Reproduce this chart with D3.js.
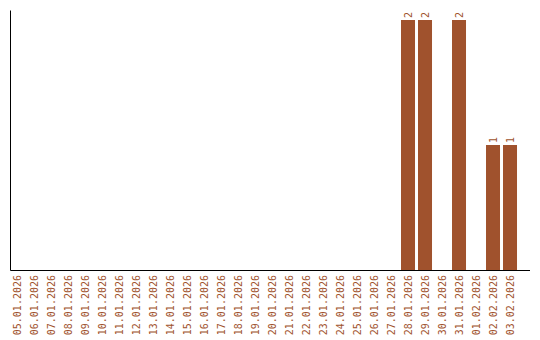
<!DOCTYPE html>
<html>
<head>
<meta charset="utf-8">
<script src="https://cdn.jsdelivr.net/npm/d3@7"></script>
<style>
  body { margin: 0; background: #fff; }
  text { font-family: "DejaVu Sans Mono", monospace; }
</style>
</head>
<body>
<script>
// data
const dates = ["05.01.2026","06.01.2026","07.01.2026","08.01.2026","09.01.2026","10.01.2026",
  "11.01.2026","12.01.2026","13.01.2026","14.01.2026","15.01.2026","16.01.2026","17.01.2026",
  "18.01.2026","19.01.2026","20.01.2026","21.01.2026","22.01.2026","23.01.2026","24.01.2026",
  "25.01.2026","26.01.2026","27.01.2026","28.01.2026","29.01.2026","30.01.2026","31.01.2026",
  "01.02.2026","02.02.2026","03.02.2026"];
const counts = [0,0,0,0,0,0,0,0,0,0,0,0,0,0,0,0,0,0,0,0,0,0,0,2,2,0,2,0,1,1];

const barColor = "#a0522d";

const svgSize = {width: 540, height: 340};
const margin = {top: 10, right: 10, bottom: 70, left: 10};
const width = svgSize.width - margin.left - margin.right,
      height = svgSize.height - margin.top - margin.bottom;

let svg = d3.select("body").append("svg")
    .attr("width", svgSize.width)
    .attr("height", svgSize.height),
  g = svg.append("g").attr("transform", `translate(${margin.left},${margin.top})`);

const rows = dates.map((d, i) => ({date: d, value: counts[i]}));

// x scale - step 17px, bar 14px
let x = d3.scaleBand()
    .domain(dates)
    .range([0, width])
    .paddingInner(3/17)
    .paddingOuter(0.382)
    .align(0);

let y = d3.scaleLinear()
    .domain([0, 2.08])
    .range([height, 0]);

// bars
g.selectAll(".bar")
  .data(rows.filter(d => d.value > 0))
  .enter().append("rect")
  .attr("class", "bar")
  .attr("x", d => x(d.date))
  .attr("y", d => y(d.value))
  .attr("width", x.bandwidth())
  .attr("height", d => height - y(d.value))
  .attr("fill", barColor);

// value labels
g.selectAll(".val")
  .data(rows.filter(d => d.value > 0))
  .enter().append("text")
  .attr("class", "val")
  .attr("transform", d => `translate(${x(d.date) + x.bandwidth()/2},${y(d.value) - 2}) rotate(-90)`)
  .attr("dy", "0.35em")
  .attr("text-anchor", "start")
  .style("font-size", "10px")
  .attr("fill", barColor)
  .text(d => d.value);

// x axis
let xAxis = g.append("g")
  .attr("transform", `translate(0,${height})`)
  .call(d3.axisBottom(x).tickSize(0));
xAxis.select(".domain").attr("stroke", "#000").attr("d", `M0.5,0.5H${width}`);
xAxis.selectAll("text")
  .attr("transform", "rotate(-90)")
  .attr("x", -5)
  .attr("y", 0)
  .attr("dy", "0.35em")
  .attr("text-anchor", "end")
  .attr("fill", barColor)
  .style("font-family", "'DejaVu Sans Mono', monospace")
  .style("font-size", "10px");

// y axis (line only)
let yAxis = g.append("g")
  .call(d3.axisLeft(y).tickValues([]).tickSizeOuter(0));
yAxis.select(".domain").attr("stroke", "#000");
</script>
</body>
</html>
